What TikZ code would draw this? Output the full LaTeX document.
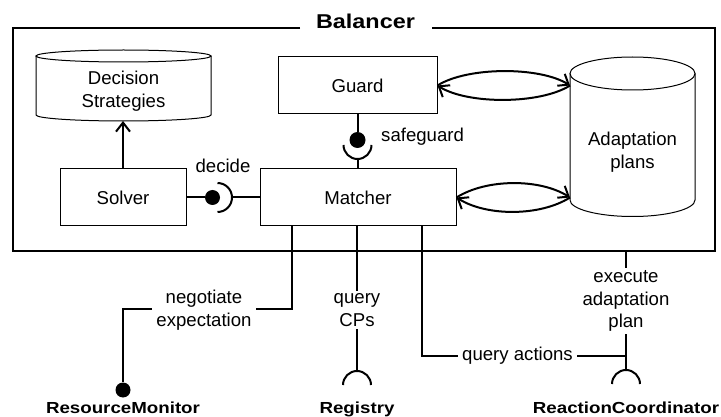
\documentclass[tikz,border=0pt]{standalone}
\usepackage{fontspec}
\setmainfont{Liberation Sans}
\newfontfamily\widefont[FakeStretch=1.17]{Liberation Sans}
\usetikzlibrary{arrows.meta,calc}
\begin{document}
\begin{tikzpicture}[x=1pt,y=-1pt,
  every node/.style={font=\fontsize{18.6}{22.5}\selectfont, inner sep=0pt},
  blk/.style={draw, line width=1pt, fill=white, minimum height=57pt},
  conn/.style={line width=2pt},
  arr/.style={line width=2pt, -{Straight Barb[length=9pt,width=14pt]}},
  ball/.style={circle, fill=black, minimum size=15pt, inner sep=0pt},
  sock/.style={line width=2pt},
  lbl/.style={fill=white, align=center, inner xsep=4pt, inner ysep=3pt},
  ext/.style={font=\widefont\bfseries\fontsize{16}{19}\selectfont, anchor=base},
  cyl/.style={line width=1pt}
]
\useasboundingbox (0,0) rectangle (721,417);

% frame
\draw[line width=2pt] (300,28) -- (13,28) -- (13,251) -- (715,251) -- (715,28) -- (432,28);
\node[font=\widefont\bfseries\fontsize{20}{24}\selectfont, anchor=base] (title) at (365.5,29) {Balancer};

% Decision Strategies cylinder
\draw[cyl] (123.5,56) ellipse[x radius=87.5, y radius=6];
\draw[cyl] (36,56) -- (36,115) arc[start angle=180, end angle=0, x radius=87.5, y radius=6] -- (211,56);
\node[align=center] (DS) at (123.5,91) {Decision\\Strategies};
\coordinate (DSb) at (123.5,121);

% Adaptation plans cylinder
\draw[cyl] (632.5,73.5) ellipse[x radius=62.5, y radius=16.5];
\draw[cyl] (570,73.5) -- (570,200) arc[start angle=180, end angle=0, x radius=62.5, y radius=16.5] -- (695,73.5);
\node[align=center] (AP) at (632.5,152) {Adaptation\\plans};
\coordinate (APl) at (570,137);

% blocks
\node[blk, minimum width=126pt] (Solver) at (123,197.5) {Solver};
\node[blk, minimum width=196pt] (Matcher) at (358,197.5) {Matcher};
\node[blk, minimum width=159pt] (Guard) at (357.5,85.5) {Guard};

% Solver -> Decision Strategies
\draw[arr] (Solver.north) -- (Solver.north |- DSb);

% Guard <-> Adaptation plans
\draw[arr] (Guard.east) .. controls +(30,-19) and +(-30,-19) .. (APl |- Guard.east);
\draw[arr] (APl |- Guard.east) .. controls +(-30,19) and +(30,19) .. (Guard.east);
% Matcher <-> Adaptation plans
\draw[arr] (Matcher.east) .. controls +(30,-19) and +(-30,-19) .. (APl |- Matcher.east);
\draw[arr] (APl |- Matcher.east) .. controls +(-30,19) and +(30,19) .. (Matcher.east);

% decide
\node[ball] (b1) at (212.5,197.5) {};
\draw[conn] (Solver.east) -- (b1);
\draw[sock] (217.5,183) arc[start angle=-90, end angle=90, radius=14.5];
\coordinate (s1) at (232,197.5);
\draw[conn] (s1) -- (Matcher.west);
\node[anchor=base] (decide) at (223,173) {decide};

% safeguard
\node[ball, minimum size=16pt] (b2) at (357.5,140) {};
\draw[conn] (Guard.south) -- (b2);
\draw[sock] (343.5,145) arc[start angle=180, end angle=0, radius=14];
\coordinate (s2) at (357.5,159);
\draw[conn] (s2) -- (s2 |- Matcher.north);
\node[anchor=base west] (safeguard) at (381,142) {safeguard};

% negotiate expectation -> ResourceMonitor
\node[ball] (b3) at (123,390) {};
\draw[conn] ([xshift=32pt]Matcher.south west) -- ++(0,82) -| (b3);
\node[lbl] (neg) at (204,310) {negotiate\\expectation};
\node[ext] (RM) at (123,413) {ResourceMonitor};

% query CPs -> Registry
\coordinate (s3) at (357,371);
\draw[sock] (343,385) arc[start angle=180, end angle=360, radius=14];
\draw[conn] (s3 |- Matcher.south) -- (s3);
\node[lbl] (qcp) at (357,310) {query\\CPs};
\node[ext] (Reg) at (357,413) {Registry};

% execute adaptation plan / query actions -> ReactionCoordinator
\coordinate (fb) at (626,251);
\coordinate (s4) at (626,370);
\coordinate (j) at (626,356);
\draw[sock] (612,384) arc[start angle=180, end angle=360, radius=14];
\draw[conn] (fb) -- (s4);
\draw[conn] ([xshift=162pt]Matcher.south west) |- (j);
\node[lbl] (qa) at (517.5,356) {query actions};
\node[lbl] (exe) at (626,301) {execute\\adaptation\\plan};
\node[ext] (RC) at (626,413) {ReactionCoordinator};
\end{tikzpicture}
\end{document}
